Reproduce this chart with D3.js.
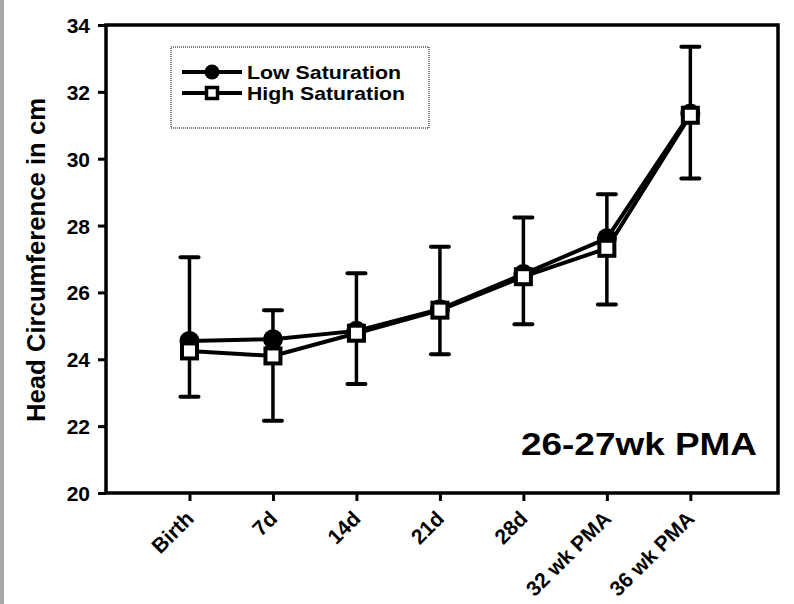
<!DOCTYPE html>
<html lang="en">
  <head>
    <meta charset="UTF-8" />
    <title>Head Circumference 26-27wk PMA</title>
    <script src="https://cdn.jsdelivr.net/npm/d3@7"></script>
    <style>
      html,
      body {
        margin: 0;
        padding: 0;
        background: #fff;
      }
      svg text {
        font-family: 'Liberation Sans', Arial, sans-serif;
        font-weight: bold;
        fill: #000;
      }
    </style>
  </head>
  <body>
    <div id="chart_svg"></div>
    <script>
      // values
      const categories = ['Birth', '7d', '14d', '21d', '28d', '32 wk PMA', '36 wk PMA']
      const lowSaturation = [24.55, 24.6, 24.85, 25.5, 26.55, 27.62, 31.35]
      const highSaturation = [24.25, 24.1, 24.78, 25.47, 26.47, 27.32, 31.3]
      const lowSD = [2.5, 0.87, 1.72, 1.87, 1.69, 1.32, 2.0] // drawn upward
      const highSD = [1.37, 1.94, 1.52, 1.32, 1.42, 1.68, 1.89] // drawn downward
      const yTicks = [20, 22, 24, 26, 28, 30, 32, 34]

      const width = 794
      const height = 604
      const frame = { left: 106, right: 778, top: 25, bottom: 493 }

      const svg = d3
        .select('#chart_svg')
        .append('svg')
        .attr('width', width)
        .attr('height', height)

      // scanned edge on the left
      svg.append('rect').attr('x', 0).attr('y', 0).attr('width', 4).attr('height', height).attr('fill', '#a8a8a8')

      const x = d3.scaleLinear().domain([-1, 7.05]).range([frame.left, frame.right])
      const y = d3.scaleLinear().domain([20, 34]).range([frame.bottom, frame.top])

      // frame
      svg
        .append('rect')
        .attr('x', frame.left)
        .attr('y', frame.top)
        .attr('width', frame.right - frame.left)
        .attr('height', frame.bottom - frame.top)
        .attr('fill', 'none')
        .attr('stroke', '#000')
        .attr('stroke-width', 3.5)

      // y axis
      const yAxis = svg
        .append('g')
        .attr('transform', `translate(${frame.left},0)`)
        .call(d3.axisLeft(y).tickValues(yTicks).tickSize(8).tickPadding(8))
      yAxis.select('.domain').remove()
      yAxis.selectAll('line').attr('stroke', '#000').attr('stroke-width', 3)
      yAxis.selectAll('text').attr('font-size', 21).attr('dy', '0.36em')

      // x axis
      const xAxis = svg
        .append('g')
        .attr('transform', `translate(0,${frame.bottom})`)
        .call(
          d3
            .axisBottom(x)
            .tickValues(d3.range(categories.length))
            .tickFormat(i => categories[i])
            .tickSize(8)
        )
      xAxis.select('.domain').remove()
      xAxis.selectAll('line').attr('stroke', '#000').attr('stroke-width', 3)
      xAxis
        .selectAll('text')
        .attr('font-size', 21)
        .attr('text-anchor', 'end')
        .attr('x', 0)
        .attr('y', 0)
        .attr('dy', 0)
        .attr('transform', 'translate(5,27) rotate(-45)')

      // axis title
      svg
        .append('text')
        .attr('transform', `translate(45,260) rotate(-90)`)
        .attr('text-anchor', 'middle')
        .attr('font-size', 26)
        .attr('textLength', 324)
        .attr('lengthAdjust', 'spacingAndGlyphs')
        .text('Head Circumference in cm')

      const line = d3
        .line()
        .x((d, i) => x(i))
        .y(d => y(d))

      const plot = svg.append('g')

      // error bars
      const cap = 9
      const bars = [
        ...lowSaturation.map((v, i) => ({ i, from: v, to: v + lowSD[i] })),
        ...highSaturation.map((v, i) => ({ i, from: v, to: v - highSD[i] }))
      ]
      const eb = plot.selectAll('.err').data(bars).join('g').attr('class', 'err')
      eb.append('line')
        .attr('x1', d => x(d.i))
        .attr('x2', d => x(d.i))
        .attr('y1', d => y(d.from))
        .attr('y2', d => y(d.to))
        .attr('stroke', '#000')
        .attr('stroke-width', 3.5)
      eb.append('line')
        .attr('x1', d => x(d.i) - cap)
        .attr('x2', d => x(d.i) + cap)
        .attr('y1', d => y(d.to))
        .attr('y2', d => y(d.to))
        .attr('stroke', '#000')
        .attr('stroke-width', 4)
        .attr('stroke-linecap', 'round')

      plot.append('path').datum(lowSaturation).attr('d', line).attr('fill', 'none').attr('stroke', '#000').attr('stroke-width', 4)
      plot.append('path').datum(highSaturation).attr('d', line).attr('fill', 'none').attr('stroke', '#000').attr('stroke-width', 4)

      plot
        .selectAll('.low')
        .data(lowSaturation)
        .join('circle')
        .attr('class', 'low')
        .attr('cx', (d, i) => x(i))
        .attr('cy', d => y(d))
        .attr('r', 10)
        .attr('fill', '#000')

      const sq = 15
      plot
        .selectAll('.high')
        .data(highSaturation)
        .join('rect')
        .attr('class', 'high')
        .attr('x', (d, i) => x(i) - sq / 2)
        .attr('y', d => y(d) - sq / 2)
        .attr('width', sq)
        .attr('height', sq)
        .attr('fill', '#fff')
        .attr('stroke', '#000')
        .attr('stroke-width', 4)

      // legend
      const legend = svg.append('g')
      legend
        .append('rect')
        .attr('x', 171)
        .attr('y', 47)
        .attr('width', 258)
        .attr('height', 81)
        .attr('fill', 'none')
        .attr('stroke', '#000')
        .attr('stroke-width', 1)
        .attr('stroke-dasharray', '1,1')

      const entries = [
        { name: 'Low Saturation', y: 72, base: 79, len: 154, marker: 'circle' },
        { name: 'High Saturation', y: 93, base: 100, len: 158, marker: 'square' }
      ]
      entries.forEach(e => {
        legend.append('line').attr('x1', 182).attr('x2', 242).attr('y1', e.y).attr('y2', e.y).attr('stroke', '#000').attr('stroke-width', 4)
        if (e.marker === 'circle') {
          legend.append('circle').attr('cx', 212).attr('cy', e.y).attr('r', 7.5).attr('fill', '#000')
        } else {
          legend
            .append('rect')
            .attr('x', 212 - 5.5)
            .attr('y', e.y - 5.5)
            .attr('width', 11)
            .attr('height', 11)
            .attr('fill', '#fff')
            .attr('stroke', '#000')
            .attr('stroke-width', 3.5)
        }
        legend
          .append('text')
          .attr('x', 247)
          .attr('y', e.base)
          .attr('font-size', 19)
          .attr('textLength', e.len)
          .attr('lengthAdjust', 'spacingAndGlyphs')
          .text(e.name)
      })

      svg
        .append('text')
        .attr('x', 521)
        .attr('y', 455)
        .attr('font-size', 32)
        .attr('textLength', 236)
        .attr('lengthAdjust', 'spacingAndGlyphs')
        .text('26-27wk PMA')
    </script>
  </body>
</html>
